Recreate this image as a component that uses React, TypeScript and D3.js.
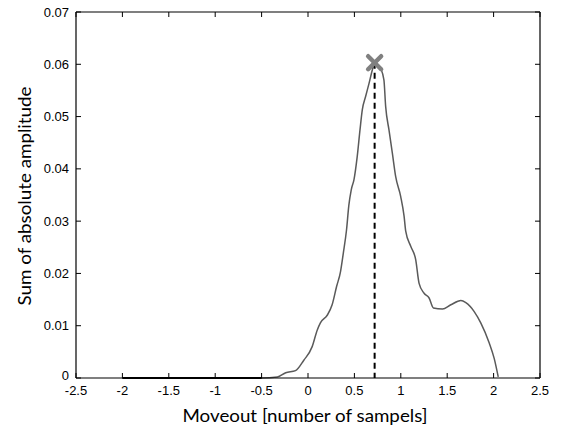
import React from "react";
import * as d3 from "d3";

const moveout = [-2, -1.5, -1, -0.5, -0.33, -0.24, -0.135, -0.045, 0.045, 0.1, 0.135, 0.207, 0.26, 0.308, 0.35, 0.38, 0.415, 0.44, 0.466, 0.495, 0.53, 0.56, 0.585, 0.62, 0.657, 0.693, 0.718, 0.75, 0.783, 0.818, 0.837, 0.873, 0.909, 0.945, 0.999, 1.035, 1.053, 1.107, 1.161, 1.197, 1.251, 1.305, 1.351, 1.449, 1.539, 1.647, 1.701, 1.791, 1.863, 1.953, 2.007, 2.05];
const amplitude = [0, 0, 0, 0, 0.0002, 0.001, 0.0014, 0.0034, 0.006, 0.0092, 0.0106, 0.012, 0.014, 0.0175, 0.0203, 0.0238, 0.0283, 0.033, 0.036, 0.0379, 0.0423, 0.0474, 0.0513, 0.0538, 0.0563, 0.0589, 0.0603, 0.06, 0.0592, 0.057, 0.0519, 0.0474, 0.043, 0.0385, 0.0347, 0.031, 0.0281, 0.0252, 0.0226, 0.0181, 0.0162, 0.0153, 0.0134, 0.0132, 0.014, 0.0148, 0.0144, 0.0127, 0.0105, 0.0067, 0.0037, 0.0002];
const xTicks = [-2.5, -2, -1.5, -1, -0.5, 0, 0.5, 1, 1.5, 2, 2.5];
const yTicks = [0, 0.01, 0.02, 0.03, 0.04, 0.05, 0.06, 0.07];
const peakX = [0.718];
const peakY = [0.0603];

export default function App() {
  const W = 565, H = 430;
  const L = 76, R = 540, T = 12, B = 378;
  const x = d3.scaleLinear().domain([-2.5, 2.5]).range([L, R]);
  const y = d3.scaleLinear().domain([0, 0.07]).range([B, T]);
  const pts = moveout.map((m, i) => [m, amplitude[i]] as [number, number]);
  const flat = pts.filter(p => p[1] === 0);
  const line = d3.line<[number, number]>().x(d => x(d[0])).y(d => y(d[1])).curve(d3.curveMonotoneX);
  const px = x(peakX[0]), py = y(peakY[0]);
  const s = 6.5;
  const tickFont = "'Liberation Sans', Arial, sans-serif";
  const labelFont = "Lato, 'Open Sans', sans-serif";
  return (
    <svg width={W} height={H} style={{ position: "absolute", left: 0, top: 0, background: "#fff" }}>
      <rect x={0} y={0} width={W} height={H} fill="#fff" />
      <path d={line(pts) || ""} fill="none" stroke="#5a5a5a" strokeWidth={1.5} />
      <line x1={px} x2={px} y1={py} y2={B} stroke="#000" strokeWidth={2} strokeDasharray="6,4" />
      <g stroke="#808080" strokeWidth={4.5} strokeLinecap="round">
        <line x1={px - s} y1={py - s} x2={px + s} y2={py + s} />
        <line x1={px - s} y1={py + s} x2={px + s} y2={py - s} />
      </g>
      {/* box */}
      <line x1={L} x2={R} y1={B} y2={B} stroke="#000" strokeWidth={1.2} />
      <line x1={L} x2={R} y1={T} y2={T} stroke="#000" strokeWidth={1.2} />
      <line x1={L} x2={L} y1={T} y2={B} stroke="#000" strokeWidth={1.2} />
      <line x1={R} x2={R} y1={T} y2={B} stroke="#555" strokeWidth={1.8} />
      <path d={line(flat) || ""} fill="none" stroke="#000" strokeWidth={2.2} />
      {xTicks.map(t => (
        <g key={"xt" + t}>
          <line x1={x(t)} x2={x(t)} y1={B} y2={B - 5} stroke="#000" />
          <line x1={x(t)} x2={x(t)} y1={T} y2={T + 5} stroke="#000" />
          <text x={x(t)} y={395} textAnchor="middle" fontFamily={tickFont} fontSize={13} fill="#000">{String(t)}</text>
        </g>
      ))}
      {yTicks.map(t => (
        <g key={"yt" + t}>
          <line x1={L} x2={L + 5} y1={y(t)} y2={y(t)} stroke="#000" />
          <line x1={R} x2={R - 5} y1={y(t)} y2={y(t)} stroke="#000" />
          <text x={69} y={t === 0 ? y(t) + 2 : y(t) + 4.5} textAnchor="end" fontFamily={tickFont} fontSize={13} fill="#000">{String(t)}</text>
        </g>
      ))}
      <text x={305} y={422} textAnchor="middle" fontFamily={labelFont} fontSize={18} fill="#000" textLength={245} lengthAdjust="spacingAndGlyphs">Moveout [number of sampels]</text>
      <text transform={`translate(31,196) rotate(-90)`} textAnchor="middle" fontFamily={labelFont} fontSize={18} fill="#000" textLength={219} lengthAdjust="spacingAndGlyphs">Sum of absolute amplitude</text>
    </svg>
  );
}
